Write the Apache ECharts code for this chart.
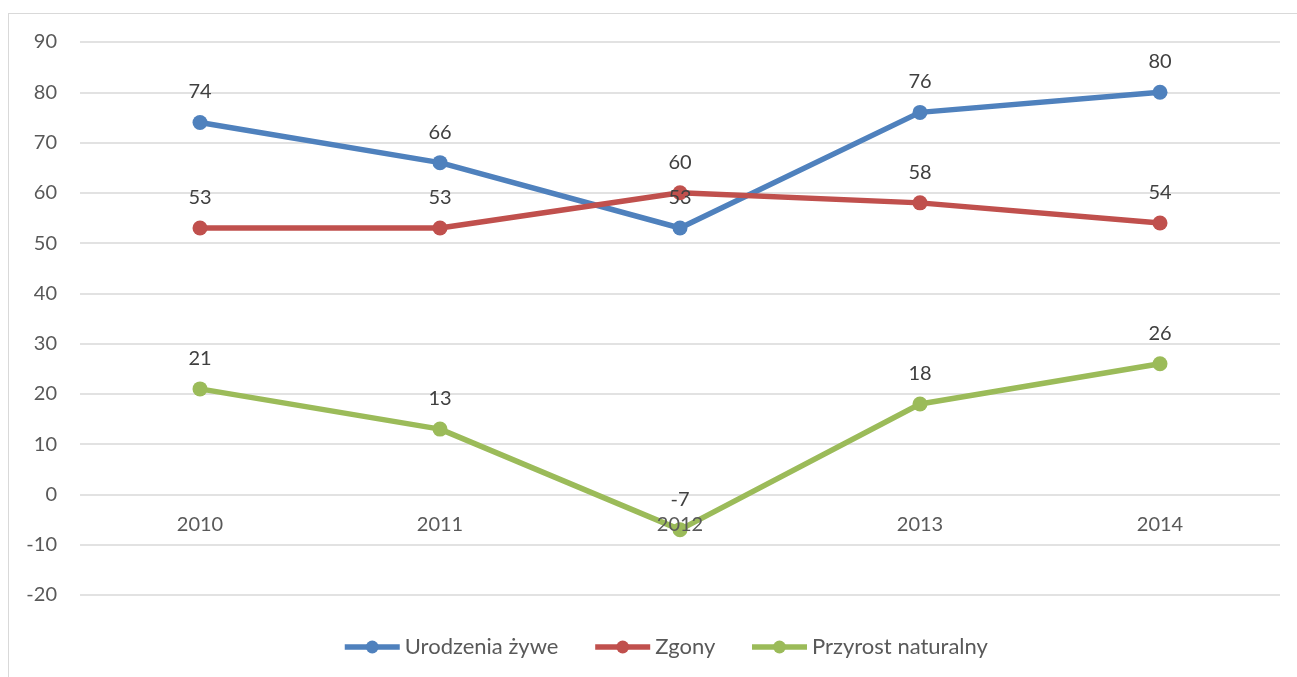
<!DOCTYPE html>
<html><head><meta charset="utf-8">
<script src="https://cdn.jsdelivr.net/npm/echarts@6/dist/echarts.min.js"></script>
<style>
html,body{margin:0;padding:0;background:#fff;overflow:hidden;}
#frame{position:absolute;left:8px;top:13px;width:1400px;height:800px;border:1.5px solid #d9d9d9;box-sizing:border-box;}
#chart{position:absolute;left:0;top:0;width:1297px;height:677px;}
</style></head>
<body>
<div id="frame"></div>
<div id="chart"></div>
<script>
const years = ['2010','2011','2012','2013','2014'];
const urodzenia = [74, 66, 53, 76, 80];
const zgony = [53, 53, 60, 58, 54];
const przyrost = [21, 13, -7, 18, 26];
const seriesNames = ['Urodzenia żywe','Zgony','Przyrost naturalny'];
const colors = ['#4F81BD','#C0504D','#9BBB59'];
const font = 'Lato, "Open Sans", sans-serif';
const yMin = -20, yMax = 90;

const gridTop = 42, gridBottom = 82, chartH = 677;
const plotH = chartH - gridTop - gridBottom;
// move the category axis onto the value 0 line
const zeroOffset = -plotH * (0 - yMin) / (yMax - yMin);

const chart = echarts.init(document.getElementById('chart'));
function mk(name, data, color){
  return {
    name, type:'line', data, color,
    symbol:'circle', symbolSize:15,
    lineStyle:{width:5.5,color},
    itemStyle:{color},
    label:{show:true,position:'top',distance:13,color:'#404040',fontSize:20,fontFamily:font},
    emphasis:{disabled:true}
  };
}
chart.setOption({
  animation:false,
  backgroundColor:'transparent',
  grid:{left:80,right:17,top:gridTop,bottom:gridBottom,containLabel:false},
  legend:{
    top:631,left:337,itemWidth:55,itemHeight:16,itemGap:34,
    lineStyle:{width:5.5},
    textStyle:{color:'#595959',fontSize:22,fontFamily:font},
    data:seriesNames
  },
  xAxis:{
    type:'category',data:years,boundaryGap:true,z:10,
    offset:zeroOffset,
    axisLine:{show:false,onZero:false},axisTick:{show:false},
    axisLabel:{color:'#595959',fontSize:20,fontFamily:font,margin:20}
  },
  yAxis:{
    type:'value',min:yMin,max:yMax,interval:10,
    axisLine:{show:false},axisTick:{show:false},
    splitLine:{lineStyle:{color:'#d9d9d9',width:1.5}},
    axisLabel:{color:'#595959',fontSize:20,fontFamily:font,margin:23}
  },
  series:[mk(seriesNames[0],urodzenia,colors[0]),mk(seriesNames[1],zgony,colors[1]),mk(seriesNames[2],przyrost,colors[2])]
});
</script>
</body></html>
